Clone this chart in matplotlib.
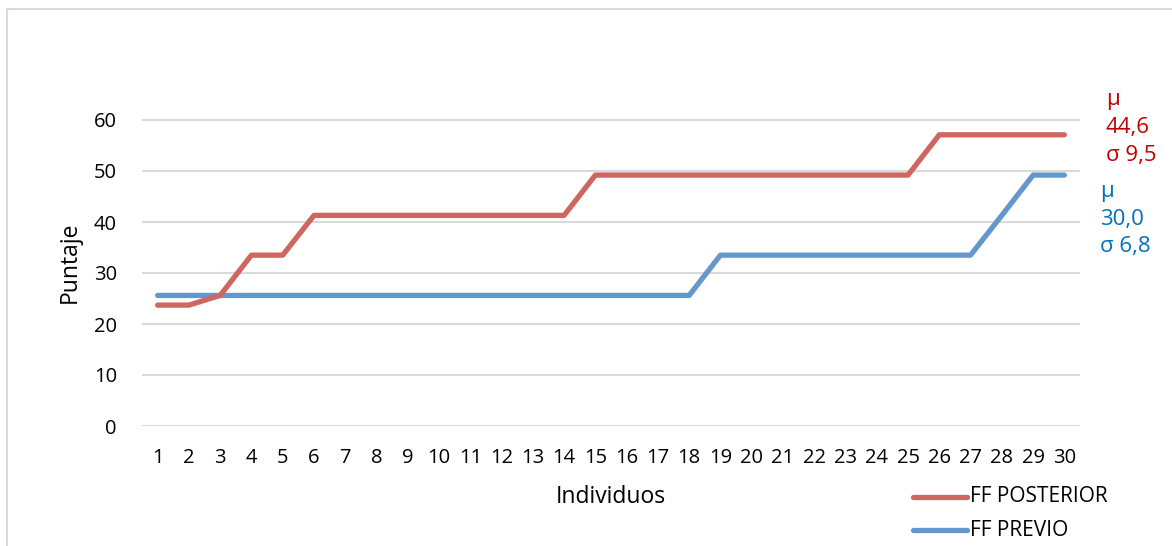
import matplotlib
matplotlib.use("Agg")
import matplotlib.pyplot as plt
from matplotlib.lines import Line2D

plt.rcParams['font.family'] = ['Open Sans', 'DejaVu Sans']

individuos = list(range(1, 31))
ff_posterior = [23.7, 23.7, 25.6, 33.5, 33.5, 41.3, 41.3, 41.3, 41.3, 41.3,
                41.3, 41.3, 41.3, 41.3, 49.2, 49.2, 49.2, 49.2, 49.2, 49.2,
                49.2, 49.2, 49.2, 49.2, 49.2, 57.1, 57.1, 57.1, 57.1, 57.1]
ff_previo = [25.6] * 18 + [33.5] * 9 + [41.3, 49.2, 49.2]
y_ticks = [0, 10, 20, 30, 40, 50, 60]
stats_posterior = ["μ", "44,6", "σ 9,5"]
stats_previo = ["μ", "30,0", "σ 6,8"]

red = "#CF665F"
blue = "#6498CD"

W, H = 1172, 546
fig = plt.figure(figsize=(W / 100, H / 100), dpi=100)
ax = fig.add_axes([142 / W, 1 - 426 / H, (1080 - 142) / W, (426 - 120) / H * 66 / 60])

ax.set_xlim(0.5, 30.5)
ax.set_ylim(0, 66)
ax.set_yticks(y_ticks)
ax.set_xticks(individuos)
ax.set_xticklabels([str(i) for i in individuos])
ax.grid(axis='y', color='#D9D9D9', linewidth=1.5)
ax.set_axisbelow(True)
for s in ax.spines.values():
    s.set_visible(False)
ax.tick_params(length=0, labelsize=14.5, colors='#000000')
ax.tick_params(axis='x', pad=16)
ax.tick_params(axis='y', pad=18)

ax.plot(individuos, ff_previo, color=blue, linewidth=3.8, solid_capstyle='round', solid_joinstyle='round')
ax.plot(individuos, ff_posterior, color=red, linewidth=3.8, solid_capstyle='round', solid_joinstyle='round')

fig.text(611 / W, 1 - 497 / H, "Individuos", ha='center', va='center', fontsize=16.5)
fig.text(70 / W, 1 - 262 / H, "Puntaje", ha='center', va='center', fontsize=16.5, rotation=90)

# stats annotations
for i, t in enumerate(stats_posterior):
    fig.text(1106 / W, 1 - (99 + i * 28) / H, t, ha='left', va='center', fontsize=16, color='#C00000')
for i, t in enumerate(stats_previo):
    fig.text(1100 / W, 1 - (191 + i * 28) / H, t, ha='left', va='center', fontsize=16, color='#0070C0')

# legend
for yy, col, lab in [(497, red, "FF POSTERIOR"), (530, blue, "FF PREVIO")]:
    fig.add_artist(Line2D([913 / W, 967 / W], [1 - yy / H, 1 - yy / H], color=col, linewidth=3.8,
                          solid_capstyle='round', transform=fig.transFigure))
    fig.text(970 / W, 1 - yy / H, lab, ha='left', va='center', fontsize=15)

# chart border (top and left visible)
fig.add_artist(Line2D([7 / W, 7 / W, 1.0], [0, 1 - 9 / H, 1 - 9 / H], color='#D9D9D9', linewidth=1.5,
                      transform=fig.transFigure))

fig.savefig("out.png", dpi=100)
